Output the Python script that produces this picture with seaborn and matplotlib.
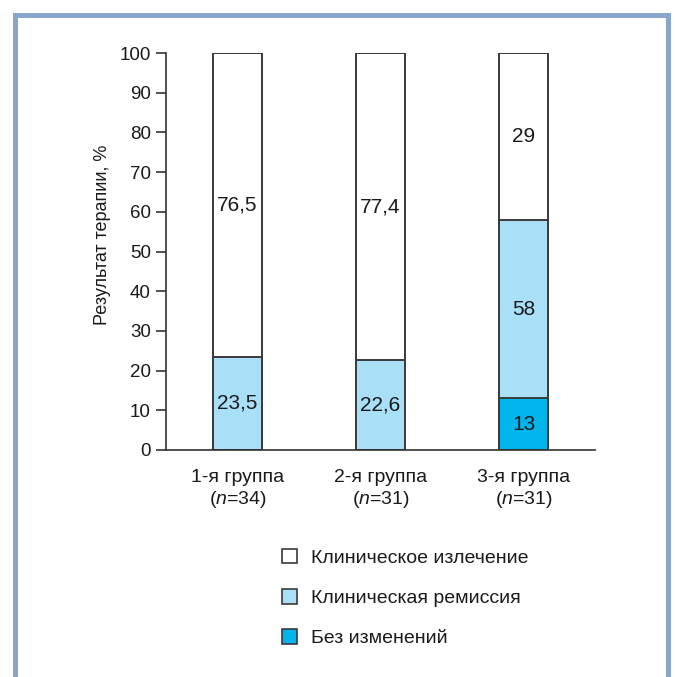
import matplotlib
matplotlib.use("Agg")
import matplotlib.pyplot as plt
from matplotlib.patches import Patch, Rectangle
import pandas as pd
import seaborn as sns

groups = ["1-я группа", "2-я группа", "3-я группа"]
n_values = [34, 31, 31]
cure = [76.5, 77.4, 29]          # Клиническое излечение
remission = [23.5, 22.6, 58]     # Клиническая ремиссия
no_change = [0, 0, 13]           # Без изменений
total = [100, 100, 100]

legend_labels = ["Клиническое излечение", "Клиническая ремиссия", "Без изменений"]
colors = ["#ffffff", "#aadff8", "#00b5ec"]
edge = "#3a3a3a"
txt = "#1a1a1a"

sns.set_theme(style="white")
plt.rcParams["font.family"] = ["Liberation Sans", "DejaVu Sans"]
plt.rcParams["mathtext.fontset"] = "custom"
plt.rcParams["mathtext.it"] = "Liberation Sans:italic"
plt.rcParams["mathtext.rm"] = "Liberation Sans"

df = pd.DataFrame({"group": groups, "total": total, "remission": remission,
                   "no_change": no_change, "cure": cure})

fig = plt.figure(figsize=(6.75, 6.77), dpi=100)
ax = fig.add_axes([166 / 675, 1 - 450 / 677, (595 - 166) / 675, (450 - 53) / 677])

bw = 0.336
# слои: весь столбец 100 %, затем ремиссия, затем без изменений
sns.barplot(data=df, x="group", y="total", order=groups, color=colors[0],
            edgecolor=edge, linewidth=1.4, width=bw, saturation=1, ax=ax)
sns.barplot(data=df, x="group", y="remission", order=groups, color=colors[1],
            edgecolor=edge, linewidth=1.4, width=bw, saturation=1, ax=ax)
sns.barplot(data=df[df["no_change"] > 0], x="group", y="no_change", order=groups,
            color=colors[2], edgecolor=edge, linewidth=1.4, width=bw, saturation=1, ax=ax)

def fmt(v):
    return f"{v:g}".replace(".", ",")

for i in range(len(groups)):
    base = no_change[i]
    ax.text(i, (remission[i] + 100) / 2, fmt(cure[i]), ha="center", va="center",
            fontsize=15, color=txt)
    ax.text(i, (base + remission[i]) / 2, fmt(remission[i]), ha="center", va="center",
            fontsize=15, color=txt)
    if no_change[i] > 0:
        ax.text(i, no_change[i] / 2, fmt(no_change[i]), ha="center", va="center",
                fontsize=15, color=txt)

ax.set_xlim(-0.5, 2.5)
ax.set_ylim(0, 100)
ax.set_yticks(range(0, 101, 10))
ax.set_xticks(range(len(groups)))
ax.set_xticklabels([f"{g}\n($\\it{{n}}$={n})" for g, n in zip(groups, n_values)],
                   fontsize=14, color=txt, linespacing=1.15)
ax.tick_params(axis="y", length=7, width=1.2, color="#333333", labelsize=13.5,
               labelcolor=txt, pad=4, left=True)
ax.tick_params(axis="x", length=0, pad=14)
ax.set_xlabel("")
ax.set_ylabel("Результат терапии, %", fontsize=13, color=txt)
ax.yaxis.set_label_coords(-0.128, 0.542)

for side in ["top", "right"]:
    ax.spines[side].set_visible(False)
for side in ["left", "bottom"]:
    ax.spines[side].set_color("#333333")
    ax.spines[side].set_linewidth(1.2)

handles = [Patch(facecolor=c, edgecolor=edge, linewidth=1.2) for c in colors]
fig.legend(handles, legend_labels, loc="upper left", bbox_to_anchor=(282 / 675, 1 - 549 / 677),
           frameon=False, fontsize=14, handlelength=0.77, handleheight=0.77,
           handletextpad=0.72, labelspacing=1.14, borderpad=0, borderaxespad=0,
           labelcolor=txt)

# рамка
frame_c = "#89a7cc"
fig.add_artist(Rectangle((13 / 675, 0), 5 / 675, 1 - 13 / 677, transform=fig.transFigure,
                         color=frame_c, lw=0))
fig.add_artist(Rectangle((13 / 675, 1 - 18 / 677), (671 - 13) / 675, 5 / 677,
                         transform=fig.transFigure, color=frame_c, lw=0))
fig.add_artist(Rectangle((666 / 675, 0), 5 / 675, 1 - 13 / 677, transform=fig.transFigure,
                         color=frame_c, lw=0))

fig.savefig("out.png", dpi=100)
